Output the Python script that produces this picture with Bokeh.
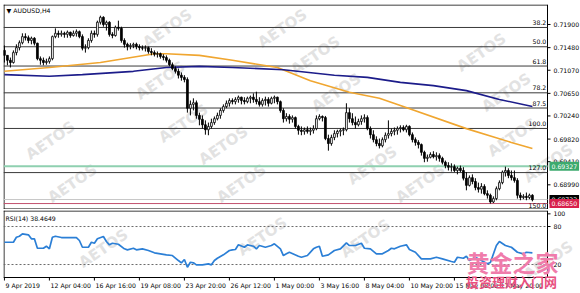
from bokeh.plotting import figure
from bokeh.layouts import column
from bokeh.models import Range1d, Label, ColumnDataSource
from bokeh.embed import file_html
from bokeh.resources import INLINE
from bokeh.core.properties import value

FONT = "DejaVu Sans"
FS = "6.2px"

# ---------------- data (AUDUSD H4, bar index 0 = 9 Apr 2019 16:00) ----------------
opens = [0.7143, 0.7134, 0.7125, 0.7121, 0.7139, 0.7148, 0.7157, 0.7168, 0.7166, 0.7161,
         0.7165, 0.7156, 0.7128, 0.7125, 0.7121, 0.7123, 0.7128, 0.7168, 0.7174, 0.7172,
         0.7174, 0.7172, 0.7176, 0.7170, 0.7174, 0.7177, 0.7168, 0.7147, 0.7148, 0.7161,
         0.7174, 0.7172, 0.7194, 0.7203, 0.7190, 0.7194, 0.7172, 0.7170, 0.7185, 0.7183,
         0.7161, 0.7154, 0.7150, 0.7152, 0.7154, 0.7150, 0.7148, 0.7147, 0.7148, 0.7141,
         0.7139, 0.7136, 0.7137, 0.7132, 0.7130, 0.7125, 0.7117, 0.7110, 0.7105, 0.7098,
         0.7094, 0.7090, 0.7038, 0.7045, 0.7048, 0.7025, 0.7018, 0.7008, 0.6999, 0.7005,
         0.7012, 0.7019, 0.7025, 0.7034, 0.7041, 0.7047, 0.7052, 0.7050, 0.7054, 0.7058,
         0.7052, 0.7050, 0.7056, 0.7058, 0.7054, 0.7050, 0.7045, 0.7052, 0.7054, 0.7047,
         0.7056, 0.7058, 0.7050, 0.7034, 0.7019, 0.7023, 0.7018, 0.7021, 0.7005, 0.6998,
         0.6996, 0.6999, 0.6996, 0.6998, 0.7001, 0.7019, 0.7023, 0.7021, 0.6983, 0.6974,
         0.6985, 0.6992, 0.6996, 0.6998, 0.6999, 0.7030, 0.7019, 0.7012, 0.7008, 0.7014,
         0.7019, 0.7021, 0.7001, 0.6990, 0.6981, 0.6974, 0.6970, 0.6981, 0.6989, 0.6992,
         0.6996, 0.6998, 0.7001, 0.7003, 0.6999, 0.7005, 0.6990, 0.6981, 0.6976, 0.6972,
         0.6958, 0.6947, 0.6949, 0.6954, 0.6950, 0.6952, 0.6947, 0.6940, 0.6934, 0.6931,
         0.6932, 0.6925, 0.6929, 0.6925, 0.6911, 0.6898, 0.6912, 0.6905, 0.6894, 0.6891,
         0.6896, 0.6883, 0.6880, 0.6868, 0.6874, 0.6892, 0.6903, 0.6922, 0.6925, 0.6916,
         0.6912, 0.6907, 0.6880, 0.6876, 0.6878, 0.6876, 0.6880]
highs = [0.7152, 0.7134, 0.7130, 0.7143, 0.7154, 0.7161, 0.7174, 0.7174, 0.7170, 0.7168,
         0.7167, 0.7157, 0.7132, 0.7130, 0.7128, 0.7132, 0.7170, 0.7183, 0.7179, 0.7179,
         0.7177, 0.7179, 0.7177, 0.7179, 0.7181, 0.7179, 0.7172, 0.7154, 0.7165, 0.7179,
         0.7179, 0.7197, 0.7206, 0.7205, 0.7197, 0.7196, 0.7176, 0.7188, 0.7197, 0.7186,
         0.7165, 0.7157, 0.7156, 0.7157, 0.7157, 0.7154, 0.7152, 0.7152, 0.7150, 0.7147,
         0.7143, 0.7141, 0.7139, 0.7136, 0.7134, 0.7128, 0.7121, 0.7114, 0.7110, 0.7103,
         0.7098, 0.7094, 0.7052, 0.7056, 0.7052, 0.7030, 0.7025, 0.7016, 0.7012, 0.7019,
         0.7023, 0.7030, 0.7038, 0.7045, 0.7052, 0.7056, 0.7056, 0.7058, 0.7061, 0.7059,
         0.7058, 0.7059, 0.7061, 0.7065, 0.7068, 0.7058, 0.7056, 0.7059, 0.7058, 0.7059,
         0.7061, 0.7059, 0.7052, 0.7038, 0.7029, 0.7027, 0.7025, 0.7023, 0.7008, 0.7005,
         0.7003, 0.7005, 0.7003, 0.7007, 0.7025, 0.7027, 0.7025, 0.7024, 0.6990, 0.6990,
         0.6998, 0.6999, 0.7001, 0.7003, 0.7047, 0.7038, 0.7029, 0.7023, 0.7019, 0.7025,
         0.7027, 0.7025, 0.7005, 0.6998, 0.6987, 0.6983, 0.6985, 0.6994, 0.7016, 0.7001,
         0.7003, 0.7005, 0.7007, 0.7007, 0.7008, 0.7007, 0.6994, 0.6985, 0.6980, 0.6974,
         0.6961, 0.6954, 0.6958, 0.6960, 0.6958, 0.6956, 0.6950, 0.6943, 0.6940, 0.6938,
         0.6936, 0.6932, 0.6934, 0.6931, 0.6922, 0.6916, 0.6918, 0.6911, 0.6903, 0.6902,
         0.6900, 0.6889, 0.6883, 0.6878, 0.6896, 0.6907, 0.6925, 0.6932, 0.6929, 0.6925,
         0.6925, 0.6911, 0.6885, 0.6882, 0.6885, 0.6883, 0.6882]
lows = [0.7121, 0.7116, 0.7112, 0.7119, 0.7134, 0.7143, 0.7154, 0.7161, 0.7156, 0.7154,
        0.7152, 0.7125, 0.7117, 0.7116, 0.7117, 0.7119, 0.7125, 0.7165, 0.7166, 0.7168,
        0.7166, 0.7166, 0.7166, 0.7168, 0.7168, 0.7165, 0.7143, 0.7139, 0.7145, 0.7157,
        0.7166, 0.7168, 0.7190, 0.7186, 0.7179, 0.7168, 0.7165, 0.7168, 0.7179, 0.7157,
        0.7148, 0.7143, 0.7145, 0.7147, 0.7145, 0.7143, 0.7143, 0.7141, 0.7137, 0.7134,
        0.7132, 0.7130, 0.7128, 0.7125, 0.7121, 0.7114, 0.7107, 0.7101, 0.7092, 0.7088,
        0.7085, 0.7030, 0.7025, 0.7034, 0.7019, 0.7007, 0.7001, 0.6990, 0.6989, 0.7001,
        0.7008, 0.7016, 0.7019, 0.7030, 0.7038, 0.7041, 0.7045, 0.7045, 0.7048, 0.7045,
        0.7045, 0.7047, 0.7047, 0.7048, 0.7045, 0.7041, 0.7041, 0.7043, 0.7041, 0.7045,
        0.7047, 0.7045, 0.7030, 0.7012, 0.7014, 0.7010, 0.7012, 0.7001, 0.6990, 0.6989,
        0.6990, 0.6992, 0.6989, 0.6992, 0.6998, 0.7016, 0.7014, 0.6980, 0.6961, 0.6970,
        0.6980, 0.6985, 0.6987, 0.6989, 0.6996, 0.7012, 0.7007, 0.7001, 0.7005, 0.7008,
        0.7012, 0.6998, 0.6983, 0.6976, 0.6969, 0.6965, 0.6967, 0.6976, 0.6983, 0.6987,
        0.6989, 0.6990, 0.6994, 0.6996, 0.6994, 0.6987, 0.6976, 0.6970, 0.6965, 0.6952,
        0.6940, 0.6941, 0.6947, 0.6947, 0.6943, 0.6941, 0.6936, 0.6929, 0.6925, 0.6923,
        0.6922, 0.6918, 0.6922, 0.6907, 0.6889, 0.6896, 0.6900, 0.6889, 0.6885, 0.6883,
        0.6880, 0.6874, 0.6865, 0.6866, 0.6871, 0.6889, 0.6900, 0.6914, 0.6911, 0.6907,
        0.6903, 0.6874, 0.6871, 0.6873, 0.6871, 0.6873, 0.6869]
closes = [0.7134, 0.7125, 0.7121, 0.7139, 0.7148, 0.7157, 0.7168, 0.7166, 0.7161, 0.7165,
          0.7156, 0.7128, 0.7125, 0.7121, 0.7123, 0.7128, 0.7168, 0.7174, 0.7172, 0.7174,
          0.7172, 0.7176, 0.7170, 0.7174, 0.7177, 0.7168, 0.7147, 0.7148, 0.7161, 0.7174,
          0.7172, 0.7194, 0.7203, 0.7190, 0.7194, 0.7172, 0.7170, 0.7185, 0.7183, 0.7161,
          0.7154, 0.7150, 0.7152, 0.7154, 0.7150, 0.7148, 0.7147, 0.7148, 0.7141, 0.7139,
          0.7136, 0.7137, 0.7132, 0.7130, 0.7125, 0.7117, 0.7110, 0.7105, 0.7098, 0.7094,
          0.7090, 0.7038, 0.7045, 0.7048, 0.7025, 0.7018, 0.7008, 0.6999, 0.7005, 0.7012,
          0.7019, 0.7025, 0.7034, 0.7041, 0.7047, 0.7052, 0.7050, 0.7054, 0.7058, 0.7052,
          0.7050, 0.7056, 0.7058, 0.7054, 0.7050, 0.7045, 0.7052, 0.7054, 0.7047, 0.7056,
          0.7058, 0.7050, 0.7034, 0.7019, 0.7023, 0.7018, 0.7021, 0.7005, 0.6998, 0.6996,
          0.6999, 0.6996, 0.6998, 0.7001, 0.7019, 0.7023, 0.7021, 0.6983, 0.6974, 0.6985,
          0.6992, 0.6996, 0.6998, 0.6999, 0.7030, 0.7019, 0.7012, 0.7008, 0.7014, 0.7019,
          0.7021, 0.7001, 0.6990, 0.6981, 0.6974, 0.6970, 0.6981, 0.6989, 0.6992, 0.6996,
          0.6998, 0.7001, 0.7003, 0.6999, 0.7005, 0.6990, 0.6981, 0.6976, 0.6972, 0.6958,
          0.6947, 0.6949, 0.6954, 0.6950, 0.6952, 0.6947, 0.6940, 0.6934, 0.6931, 0.6932,
          0.6925, 0.6929, 0.6925, 0.6911, 0.6898, 0.6912, 0.6905, 0.6894, 0.6891, 0.6896,
          0.6883, 0.6880, 0.6868, 0.6874, 0.6892, 0.6903, 0.6922, 0.6925, 0.6916, 0.6912,
          0.6907, 0.6880, 0.6876, 0.6878, 0.6876, 0.6880, 0.6872]

# moving averages (orange and navy), read at these bar indices
ma_fast_bar = [0, 15, 32, 50, 54, 65, 76, 91, 102, 115, 125, 132, 154, 169, 176]
ma_fast_val = [0.7105, 0.7112, 0.7121, 0.7137, 0.7137, 0.7134, 0.7125, 0.7112, 0.7088,
               0.7067, 0.7056, 0.7043, 0.7001, 0.6976, 0.6965]
ma_slow_bar = [0, 15, 26, 43, 54, 65, 76, 93, 110, 121, 132, 143, 154, 165, 176]
ma_slow_val = [0.7099, 0.7096, 0.7099, 0.7105, 0.7112, 0.7114, 0.7112, 0.7108, 0.7098,
               0.7094, 0.7085, 0.7079, 0.7070, 0.7054, 0.7041]

# Fibonacci levels
fib_labels = ["38.2", "50.0", "61.8", "78.2", "87.5", "100.0", "127.0", "150.0"]
fib_prices = [0.71846, 0.71496, 0.71146, 0.70660, 0.70384, 0.70013, 0.69212, 0.68530]

price_ticks = [0.71900, 0.71480, 0.71070, 0.70650, 0.70240, 0.69820, 0.69410, 0.68990]
level_green = 0.69327
level_bid = 0.68723
level_red = 0.68650

# RSI(14)
rsi_bar = [0, 3, 4, 5, 6, 8, 9, 10, 11, 13, 14, 15, 16, 17, 19, 24, 25, 26, 28, 29, 30,
           31, 33, 34, 35, 36, 38, 40, 41, 43, 44, 46, 48, 50, 52, 54, 56, 58, 59, 60, 61,
           62, 63, 64, 66, 68, 69, 70, 71, 73, 75, 76, 77, 78, 80, 81, 83, 84, 85, 87, 89,
           90, 92, 93, 94, 95, 98, 99, 101, 103, 104, 105, 106, 108, 110, 112, 114, 115,
           117, 119, 120, 122, 124, 126, 128, 129, 130, 132, 134, 135, 137, 139, 142, 144,
           146, 149, 150, 151, 153, 154, 155, 157, 159, 161, 162, 164, 165, 167, 169, 171,
           173, 174, 176]
rsi_val = [55.2, 55.2, 63.1, 64.7, 68.5, 66.9, 60.6, 60.6, 45.7, 45.7, 48.9, 44.8, 63.1,
           64.7, 62.6, 62.6, 57.9, 47.3, 47.3, 55.2, 53.6, 60.6, 64.2, 56.3, 51.1, 53.6,
           52.0, 44.8, 43.2, 45.7, 43.2, 44.8, 42.1, 38.5, 36.9, 35.3, 34.2, 26.3, 22.7,
           27.9, 15.7, 23.6, 22.7, 19.5, 19.5, 21.1, 19.5, 26.3, 29.9, 35.3, 42.1, 43.2,
           43.7, 51.1, 47.3, 51.1, 48.9, 44.8, 50.0, 47.3, 50.0, 52.7, 44.8, 34.2, 36.9,
           39.4, 33.1, 31.5, 34.2, 44.8, 47.3, 48.9, 33.1, 35.3, 42.1, 44.8, 54.3, 50.0,
           50.0, 53.6, 45.7, 44.8, 36.9, 36.9, 42.1, 45.7, 44.8, 48.9, 51.1, 43.7, 39.4,
           29.0, 29.0, 31.5, 29.0, 24.7, 23.6, 31.5, 29.9, 33.1, 26.3, 31.5, 26.3, 21.1,
           23.2, 50.0, 56.3, 50.0, 47.3, 39.4, 36.9, 39.4, 38.46]
rsi_levels = [80, 20]
rsi_ticks = [100, 80, 20]

time_ticks = [0, 15, 30, 45, 60, 75, 90, 105, 120, 135, 150, 165]
time_labels = ["9 Apr 2019", "12 Apr 04:00", "16 Apr 16:00", "19 Apr 08:00",
               "23 Apr 20:00", "26 Apr 12:00", "1 May 00:00", "3 May 16:00",
               "8 May 04:00", "10 May 20:00", "15 May 08:00", "17 May 20:00"]

# ---------------- geometry (scales) ----------------
BAR_PX = 3.0                     # pixels per bar
XS = -0.3                        # x at the left frame edge
X_END = XS + 544 / BAR_PX        # x at the right edge of the chart area (price scale begins)
XR_END = XS + 577 / BAR_PX       # x at the right edge of the window
PX_X = 1 / BAR_PX

Y_LO, Y_HI = 0.68542, 0.72263    # main price panel (205 px)
PX_Y = (Y_HI - Y_LO) / 205

R_HI = 105.3                     # RSI panel, 67 px chart + 16 px time scale
PX_R = 1.579
R_BOT = R_HI - 67 * PX_R         # bottom edge of the RSI chart area
R_LO = R_HI - 83 * PX_R

xr = Range1d(XS, XR_END)

# ---------------- main price panel ----------------
n = len(closes)
src = ColumnDataSource(dict(
    x=list(range(n)), h=highs, l=lows,
    top=[max(o, c) for o, c in zip(opens, closes)],
    bot=[min(o, c) for o, c in zip(opens, closes)],
    fill=["white" if c > o else "black" for o, c in zip(opens, closes)],
))

p = figure(width=580, height=209, output_backend="svg", toolbar_location=None,
           x_range=xr, y_range=Range1d(Y_LO, Y_HI),
           x_axis_location=None, y_axis_location=None,
           min_border_left=3, min_border_right=0, min_border_top=4, min_border_bottom=0,
           background_fill_color="white", border_fill_color="white")
p.outline_line_color = None
p.grid.visible = False

WM = "#e2e2e2"
wm_main = [(167, 28), (160, 80), (50, 140), (72, 183), (183, 123), (282, 28), (315, 55),
           (336, 92), (223, 145), (241, 183), (372, 165), (420, 183), (481, 52),
           (506, 92), (512, 137), (548, 163)]
for (px, py) in wm_main:
    p.add_layout(Label(x=px - 3, y=209 - py, x_units="screen", y_units="screen",
                       text="AETOS", angle=0.6, text_align="center", text_baseline="middle",
                       text_color=WM, text_font=FONT, text_font_style="bold",
                       text_font_size="15px", level="underlay"))

# chart frame
p.segment(x0=[XS, XS, XS + PX_X / 2, X_END], x1=[X_END, X_END, XS + PX_X / 2, X_END],
          y0=[Y_HI - PX_Y / 2, Y_LO + PX_Y / 2, Y_LO, Y_LO],
          y1=[Y_HI - PX_Y / 2, Y_LO + PX_Y / 2, Y_HI, Y_HI],
          line_color="#000000", line_width=1)

k = len(fib_prices)
p.segment(x0=[XS] * k, x1=[X_END] * k, y0=fib_prices, y1=fib_prices,
          line_color="#3a3a3a", line_width=1)
p.segment(x0=[XS], x1=[X_END], y0=[level_green], y1=[level_green],
          line_color="#8fd0b0", line_width=2)
p.segment(x0=[XS], x1=[X_END], y0=[level_bid], y1=[level_bid],
          line_color="#c8c8c8", line_width=1)
p.segment(x0=[XS], x1=[X_END], y0=[level_red], y1=[level_red],
          line_color="#c2506e", line_width=1)

p.text(x=[X_END - 0.4] * k, y=fib_prices, text=fib_labels,
       text_align="right", text_baseline="bottom", y_offset=-2.5, text_font=value(FONT),
       text_font_size=FS, text_color="#000000")

p.line(ma_fast_bar, ma_fast_val, line_color="#f0a630", line_width=1.6)
p.line(ma_slow_bar, ma_slow_val, line_color="#1c1c8a", line_width=1.6)

p.segment(x0="x", y0="l", x1="x", y1="h", source=src, line_color="black", line_width=1)
p.vbar(x="x", width=0.62, top="top", bottom="bot", fill_color="fill",
       line_color="black", line_width=0.8, source=src)

# price scale
m = len(price_ticks)
p.segment(x0=[X_END] * m, x1=[X_END + 1.0] * m, y0=price_ticks, y1=price_ticks,
          line_color="#000000", line_width=1)
p.text(x=[X_END + 2.0] * m, y=price_ticks, text=["%.5f" % t for t in price_ticks],
       text_align="left", text_baseline="middle", text_font=value(FONT),
       text_font_size=FS, text_color="#000000")

for lv, bg in [(level_green, "#3daa6e"), (level_bid, "#000000"), (level_red, "#d8204c")]:
    p.add_layout(Label(x=546, y=lv, x_units="screen", y_units="data",
                       text="%.5f" % lv, text_align="left", text_baseline="middle",
                       text_color="white", text_font=FONT, text_font_size=FS,
                       background_fill_color=bg, padding=2))

p.add_layout(Label(x=3, y=199, x_units="screen", y_units="screen", text="\u25bc AUDUSD,H4",
                   text_align="left", text_baseline="middle", text_color="#000000",
                   text_font=FONT, text_font_size=FS))

# ---------------- RSI panel ----------------
r = figure(width=580, height=84, output_backend="svg", toolbar_location=None,
           x_range=xr, y_range=Range1d(R_LO, R_HI),
           x_axis_location=None, y_axis_location=None,
           min_border_left=3, min_border_right=0, min_border_top=1, min_border_bottom=0,
           background_fill_color="white", border_fill_color="white")
r.outline_line_color = None
r.grid.visible = False

wm_rsi = [(103, 248), (262, 236), (365, 238), (548, 260)]
for (px, py) in wm_rsi:
    r.add_layout(Label(x=px - 3, y=293 - py, x_units="screen", y_units="screen",
                       text="AETOS", angle=0.6, text_align="center", text_baseline="middle",
                       text_color=WM, text_font=FONT, text_font_style="bold",
                       text_font_size="15px", level="underlay"))

r.segment(x0=[XS, XS, XS + PX_X / 2, X_END], x1=[X_END, X_END, XS + PX_X / 2, X_END],
          y0=[R_HI - PX_R / 2, R_BOT, R_BOT, R_BOT],
          y1=[R_HI - PX_R / 2, R_BOT, R_HI, R_HI],
          line_color="#000000", line_width=1)

r.segment(x0=[XS] * 2, x1=[X_END] * 2, y0=rsi_levels, y1=rsi_levels,
          line_color="#6a6a6a", line_width=1, line_dash="2 2")

r.line(rsi_bar, rsi_val, line_color="#2b7fd6", line_width=1.7)

# RSI scale
q = len(rsi_ticks)
r.segment(x0=[X_END] * q, x1=[X_END + 1.0] * q, y0=rsi_ticks, y1=rsi_ticks,
          line_color="#000000", line_width=1)
r.text(x=[X_END + 2.0] * q, y=rsi_ticks, text=[str(t) for t in rsi_ticks],
       text_align="left", text_baseline="middle", text_font=value(FONT),
       text_font_size=FS, text_color="#000000")

# time scale
w = len(time_ticks)
r.segment(x0=time_ticks, x1=time_ticks, y0=[R_BOT] * w, y1=[R_BOT - 3 * PX_R] * w,
          line_color="#000000", line_width=1)
r.text(x=[t + 0.4 for t in time_ticks], y=[R_BOT - 8 * PX_R] * w, text=time_labels,
       text_align="left", text_baseline="middle", text_font=value(FONT),
       text_font_size=FS, text_color="#000000")

r.add_layout(Label(x=2, y=75, x_units="screen", y_units="screen", text="RSI(14) 38.4649",
                   text_align="left", text_baseline="middle", text_color="#000000",
                   text_font=FONT, text_font_size=FS))

r.add_layout(Label(x=509, y=32, x_units="screen", y_units="screen", text="黄金之家",
                   text_align="center", text_baseline="middle", text_color="#f07cab",
                   text_font="Noto Sans CJK SC", text_font_style="bold",
                   text_font_size="23px"))
r.add_layout(Label(x=508, y=12, x_units="screen", y_units="screen", text="投资理财入门网",
                   text_align="center", text_baseline="middle", text_color="#e8507f",
                   text_font="Noto Sans CJK SC", text_font_style="bold",
                   text_font_size="13px"))

layout = column(p, r, spacing=0)
open("out.html", "w").write(file_html(layout, INLINE))
